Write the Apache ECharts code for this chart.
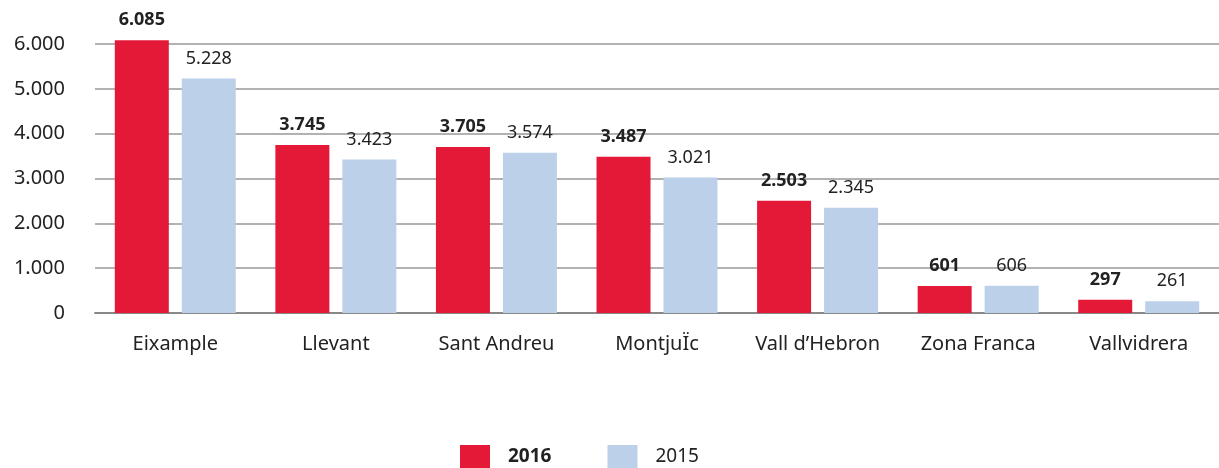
<!DOCTYPE html>
<html>
<head>
<meta charset="utf-8">
<script src="https://cdn.jsdelivr.net/npm/echarts@6/dist/echarts.min.js"></script>
<style>
  html, body { margin: 0; padding: 0; background: #fff; }
  #chart { width: 1219px; height: 468px; }
</style>
</head>
<body>
<div id="chart"></div>
<script>
// categorías y valores
const categories = ['Eixample', 'Llevant', 'Sant Andreu', 'MontjuÏc', "Vall d\u2019Hebron", 'Zona Franca', 'Vallvidrera']
const values2016 = [6085, 3745, 3705, 3487, 2503, 601, 297]
const values2015 = [5228, 3423, 3574, 3021, 2345, 606, 261]
const yTicks = [0, 1000, 2000, 3000, 4000, 5000, 6000]

const fmt = v => String(v).replace(/\B(?=(\d{3})+(?!\d))/g, '.')
const font = '"Noto Sans", Roboto, sans-serif'

const chart = echarts.init(document.getElementById('chart'))
chart.setOption({
  animation: false,
  textStyle: { fontFamily: font },
  grid: { left: 95, right: 0, top: 44, height: 269 },
  legend: {
    top: 445,
    left: 460,
    padding: 0,
    itemWidth: 30,
    itemHeight: 23,
    itemGap: 56,
    icon: 'rect',
    textStyle: { fontSize: 19, color: '#222', fontFamily: font, padding: [0, 0, 0, 13] },
    data: [
      { name: '2016', textStyle: { fontWeight: 'bold' } },
      { name: '2015' }
    ]
  },
  xAxis: {
    type: 'category',
    data: categories,
    axisTick: { show: false },
    axisLine: { lineStyle: { color: '#888', width: 2 } },
    axisLabel: { fontSize: 20, color: '#222', margin: 21, interval: 0 }
  },
  yAxis: {
    type: 'value',
    min: yTicks[0],
    max: yTicks[yTicks.length - 1],
    interval: 1000,
    axisLabel: { fontSize: 20, color: '#222', margin: 30, formatter: fmt },
    splitLine: { lineStyle: { color: '#999', width: 1.5 } }
  },
  series: [
    {
      name: '2016',
      type: 'bar',
      data: values2016,
      clip: false,
      barWidth: 54,
      barGap: '24%',
      itemStyle: { color: '#E31937' },
      label: { show: true, position: 'top', distance: 11, fontSize: 18, fontWeight: 'bold', color: '#222', formatter: p => fmt(p.value) }
    },
    {
      name: '2015',
      type: 'bar',
      data: values2015,
      clip: false,
      barWidth: 54,
      itemStyle: { color: '#BCD0E9' },
      label: { show: true, position: 'top', distance: 11, fontSize: 18, color: '#222', formatter: p => fmt(p.value) }
    }
  ]
})
</script>
</body>
</html>
